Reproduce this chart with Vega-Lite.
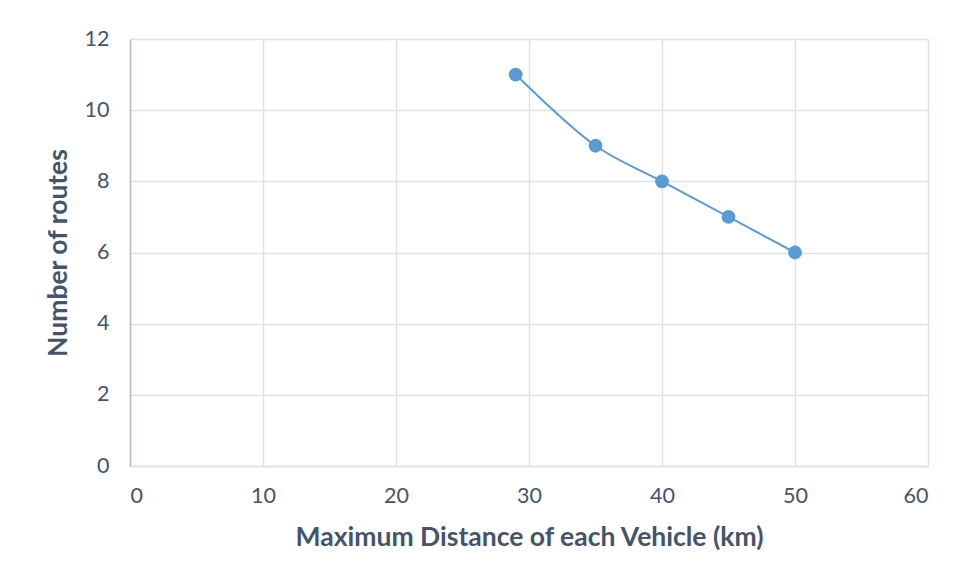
{
  "$schema": "https://vega.github.io/schema/vega-lite/v6.json",
  "width": 798,
  "height": 427,
  "autosize": {"type": "none"},
  "padding": {"left": 130, "top": 39, "right": 29, "bottom": 112},
  "background": "white",
  "config": {
    "view": {"stroke": null},
    "font": "Lato",
    "axis": {
      "gridColor": "#DCE1EA",
      "gridWidth": 1.5,
      "ticks": false,
      "labelFont": "Lato",
      "labelFontSize": 21.5,
      "labelColor": "#44546A",
      "titleFont": "Lato",
      "titleFontSize": 26.5,
      "titleFontWeight": "bold",
      "titleColor": "#44546A"
    }
  },
  "data": {
    "values": [
      {"distance": 29, "routes": 11},
      {"distance": 35, "routes": 9},
      {"distance": 40, "routes": 8},
      {"distance": 45, "routes": 7},
      {"distance": 50, "routes": 6}
    ]
  },
  "layer": [
    {
      "mark": {"type": "line", "interpolate": "catmull-rom", "color": "#5B9BD5", "strokeWidth": 2},
      "encoding": {
        "x": {"field": "distance", "type": "quantitative", "scale": {"domain": [0, 60], "nice": false},
          "axis": {"title": "Maximum Distance of each Vehicle (km)", "values": [0,10,20,30,40,50,60], "labelPadding": 19, "titlePadding": 18, "domainColor": "#DCE1EA", "domainWidth": 1.5}},
        "y": {"field": "routes", "type": "quantitative", "scale": {"domain": [0, 12], "nice": false},
          "axis": {"title": "Number of routes", "values": [0,2,4,6,8,10,12], "labelPadding": 21, "titlePadding": 12, "domainColor": "#B4BDCF", "domainWidth": 1.5}}
      }
    },
    {
      "mark": {"type": "point", "filled": true, "opacity": 1, "color": "#5B9BD5", "size": 190},
      "encoding": {
        "x": {"field": "distance", "type": "quantitative"},
        "y": {"field": "routes", "type": "quantitative"}
      }
    }
  ]
}
